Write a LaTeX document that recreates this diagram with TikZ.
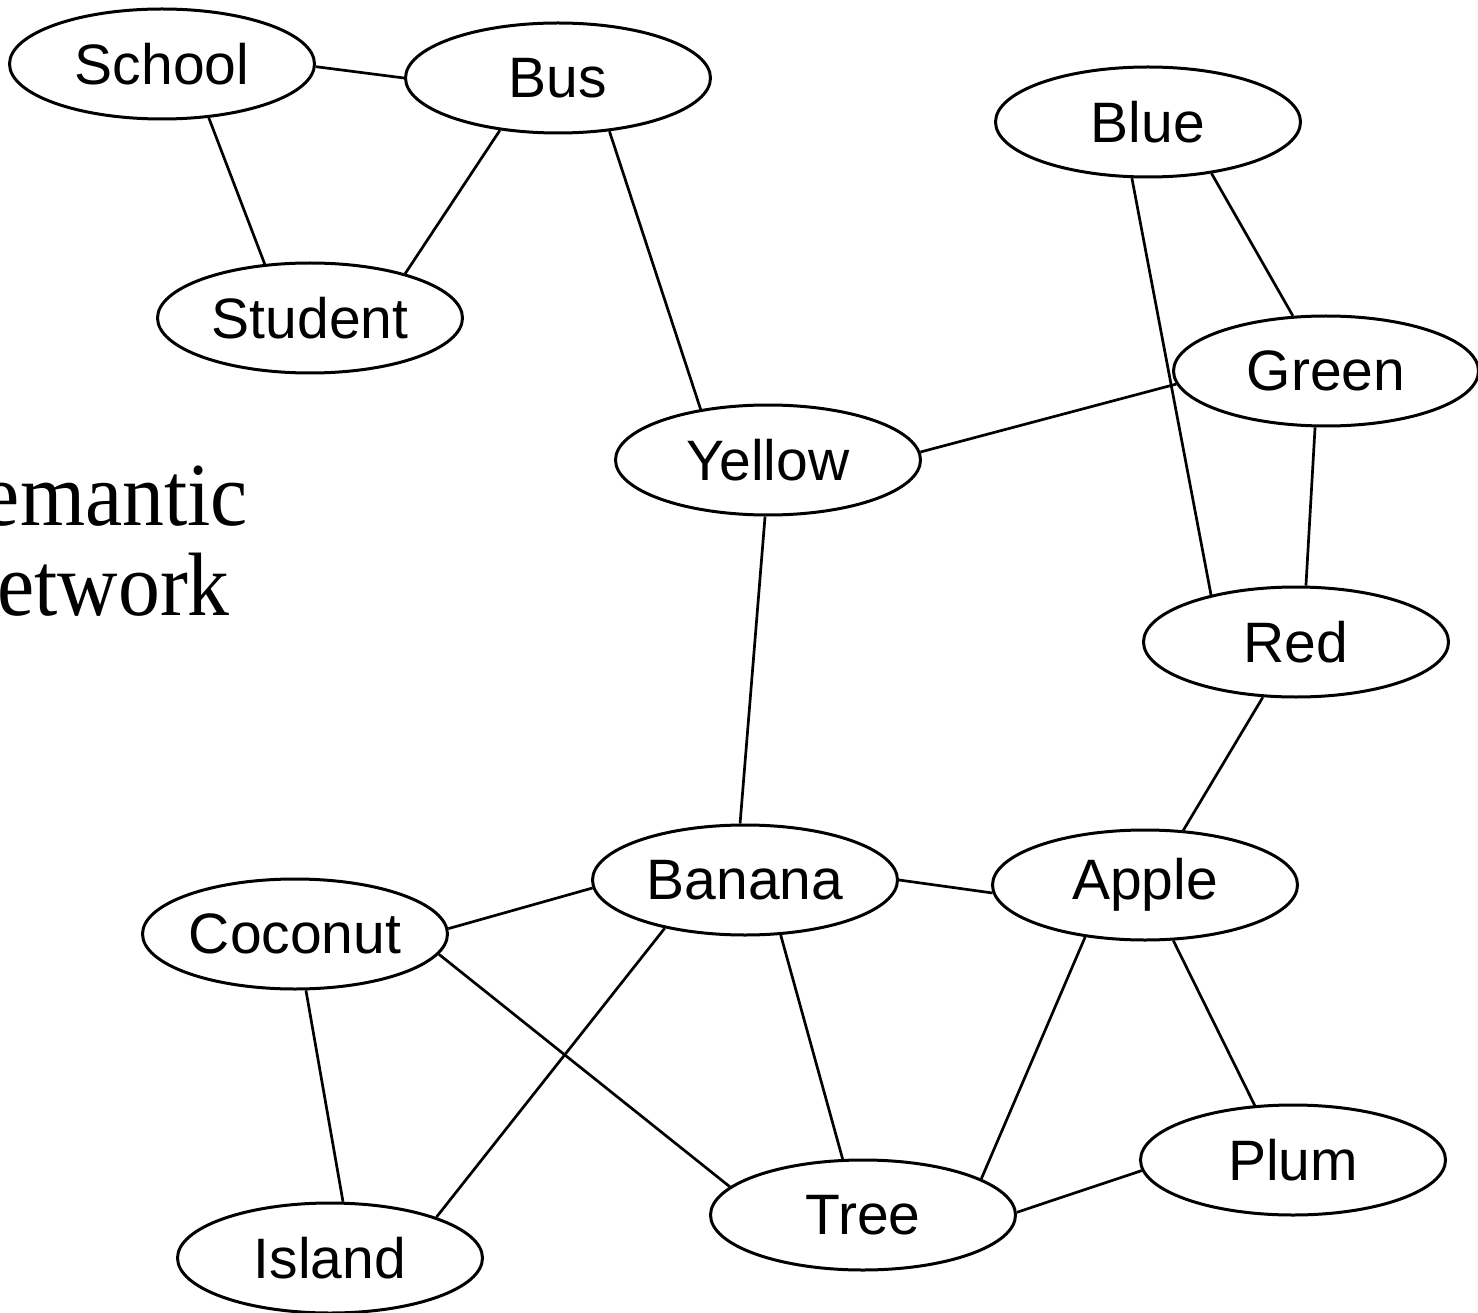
\documentclass[tikz,border=0pt]{standalone}
\usepackage{fontspec}
\usetikzlibrary{shapes.geometric}
\newfontfamily\labfont{Liberation Sans}
\newfontfamily\serfont{Liberation Serif}
\begin{document}
\begin{tikzpicture}[x=1pt,y=-1pt,
  concept/.style={ellipse, draw, line width=3pt, inner sep=0pt,
    minimum width=305pt, minimum height=110pt,
    font=\labfont\fontsize{57}{60}\selectfont},
  link/.style={line width=2.7pt},
  title/.style={anchor=base east, inner sep=0pt,
    font=\serfont\fontsize{90}{90}\selectfont}]
\useasboundingbox (0,0) rectangle (1478,1313);
\begin{scope}
\clip (0,0) rectangle (1478,1313);
\node[title] (t1) at (248,525) {\scalebox{0.93}[1]{Semantic}};
\node[title] (t2) at (230,615) {\scalebox{0.93}[1]{Network}};

\node[concept] (school)  at (162,64)   {School};
\node[concept] (bus)     at (558,78)   {Bus};
\node[concept] (student) at (310,318)  {Student};
\node[concept] (blue)    at (1148,122) {Blue};
\node[concept] (green)   at (1326,371) {Green};
\node[concept] (red)     at (1296,642) {Red};
\node[concept] (yellow)  at (768,460)  {Yellow};
\node[concept] (banana)  at (745,880)  {Banana};
\node[concept] (apple)   at (1145,885) {Apple};
\node[concept] (coconut) at (295,934)  {Coconut};
\node[concept] (plum)    at (1293,1160){Plum};
\node[concept] (tree)    at (863,1215) {Tree};
\node[concept] (island)  at (330,1258) {Island};

\draw[link] (school.-1.5) -- (bus.180);
\draw[link] (school.-49.6) -- (student.130.8);
\draw[link] (bus.-138.1) -- (student.25.1);
\draw[link] (bus.-46) -- (yellow.143.4);
\draw[link] (blue.-106.8) -- (red.151.6);
\draw[link] (blue.-39.9) -- (green.121.9);
\draw[link] (yellow.3.8) -- (green.185);
\draw[link] (green.-101.1) -- (red.80.7);
\draw[link] (yellow.-93.1) -- (banana.95.2);
\draw[link] (red.-121.7) -- (apple.55.1);
\draw[link] (banana.0) -- (apple.183);
\draw[link] (coconut.2.3) -- (banana.183.1);
\draw[link] (coconut.-79.9) -- (island.77.5);
\draw[link] (coconut.-8.7) -- (tree.168.7);
\draw[link] (banana.-149.7) -- (island.21);
\draw[link] (banana.-57.6) -- (tree.110.7);
\draw[link] (apple.-139.4) -- (tree.17.4);
\draw[link] (apple.-63) -- (plum.125.8);
\draw[link] (tree.1.1) -- (plum.184.5);
\end{scope}
\end{tikzpicture}
\end{document}
